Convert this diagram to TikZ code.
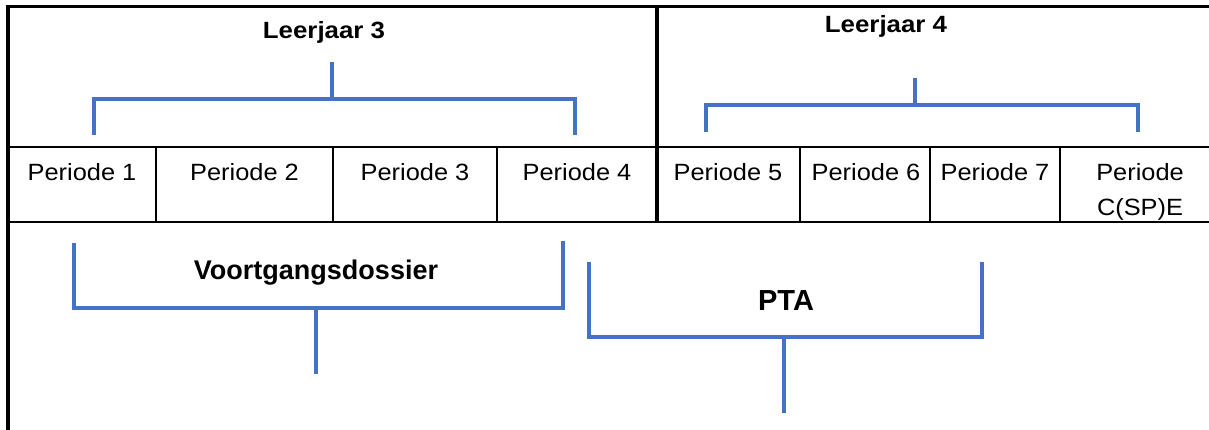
\documentclass[tikz,border=0pt]{standalone}
\usepackage{fontspec}
\setmainfont{Liberation Sans}
\usepackage{graphicx}
\definecolor{brk}{RGB}{68,114,196}
\newcommand\hsc[2]{\scalebox{#1}[1]{#2}}
\begin{document}
\begin{tikzpicture}[x=1pt,y=-1pt,
  frame/.style={draw=black,line width=#1},
  bracket/.style={draw=brk,line width=4,line join=miter,line cap=butt},
  per/.style={inner sep=0pt,font=\fontsize{23.5}{28}\selectfont,align=center},
  head/.style={inner sep=0pt,font=\fontsize{23.5}{28}\selectfont\bfseries},
  lab/.style={inner sep=0pt,font=\fontsize{27}{32}\selectfont\bfseries}]
\useasboundingbox (0,0) rectangle (1209,430);
% frame lines
\draw[frame=2.7] (6,6.3) -- (1209,6.3);
\draw[frame=4] (8,4.9) -- (8,430);
\draw[frame=2.5] (8,147) -- (1209,147);
\draw[frame=2.4] (8,222) -- (1209,222);
\draw[frame=3.5] (657,5) -- (657,223);
\foreach \xx in {156,333,497,800,930,1060}
  \draw[frame=2] (\xx,147) -- (\xx,222);
% texts
\node[head] (l3) at (324,32) {\hsc{1.1}{Leerjaar 3}};
\node[head] (l4) at (886,26) {\hsc{1.1}{Leerjaar 4}};
\node[per,anchor=base] (p1) at (82,181) {\hsc{1.08}{Periode 1}};
\node[per,anchor=base] (p2) at (244.5,181) {\hsc{1.08}{Periode 2}};
\node[per,anchor=base] (p3) at (415,181) {\hsc{1.08}{Periode 3}};
\node[per,anchor=base] (p4) at (577,181) {\hsc{1.08}{Periode 4}};
\node[per,anchor=base] (p5) at (728,181) {\hsc{1.08}{Periode 5}};
\node[per,anchor=base] (p6) at (866,181) {\hsc{1.08}{Periode 6}};
\node[per,anchor=base] (p7) at (995,181) {\hsc{1.08}{Periode 7}};
\node[per,anchor=base] (pc) at (1140,181) {\hsc{1.08}{Periode}};
\node[per,anchor=base] (pc2) at (1140,216) {\hsc{1.08}{C(SP)E}};
\node[lab] (vd) at (316,273) {Voortgangsdossier};
\node[lab,font=\fontsize{29}{34}\selectfont\bfseries] (pta) at (786,301) {PTA};
% bracket coordinates
\coordinate (a1) at (94,135); \coordinate (a2) at (94,98.7);
\coordinate (a3) at (575,98.7); \coordinate (a4) at (575,135);
\coordinate (a5) at (332,98.7); \coordinate (a6) at (332,62);
\coordinate (b1) at (706,132); \coordinate (b2) at (706,105);
\coordinate (b3) at (1138,105); \coordinate (b4) at (1138,132);
\coordinate (b5) at (915,105); \coordinate (b6) at (915,78);
\coordinate (c1) at (74,243); \coordinate (c2) at (74,308);
\coordinate (c3) at (563,308); \coordinate (c4) at (563,241);
\coordinate (c5) at (315.5,308); \coordinate (c6) at (315.5,374);
\coordinate (d1) at (589,262); \coordinate (d2) at (589,337);
\coordinate (d3) at (982,337); \coordinate (d4) at (982,262);
\coordinate (d5) at (783.5,337); \coordinate (d6) at (783.5,413);
\draw[bracket] (a1) -- (a2) -- (a3) -- (a4); \draw[bracket] (a5) -- (a6);
\draw[bracket] (b1) -- (b2) -- (b3) -- (b4); \draw[bracket] (b5) -- (b6);
\draw[bracket] (c1) -- (c2) -- (c3) -- (c4); \draw[bracket] (c5) -- (c6);
\draw[bracket] (d1) -- (d2) -- (d3) -- (d4); \draw[bracket] (d5) -- (d6);
\end{tikzpicture}
\end{document}
